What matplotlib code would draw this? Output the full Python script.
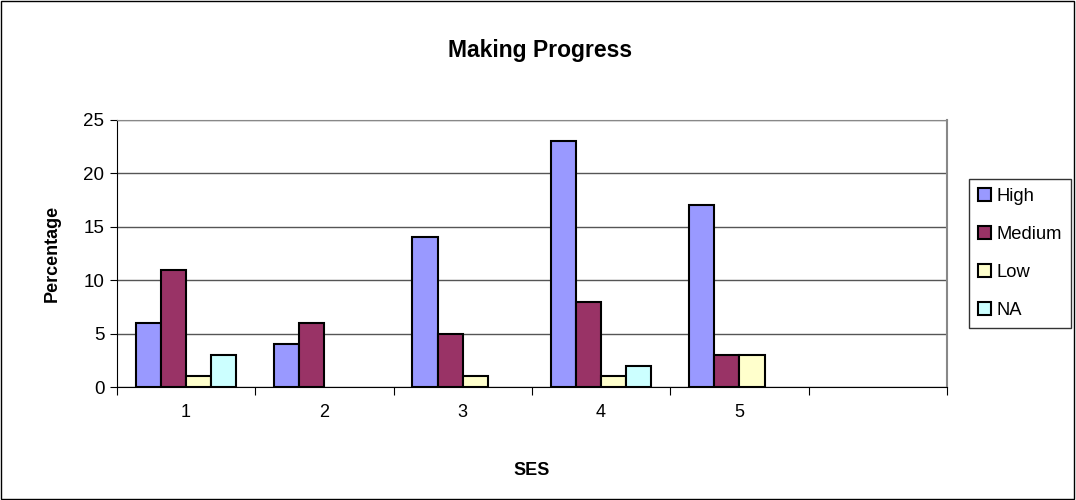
import numpy as np
import matplotlib.pyplot as plt
from matplotlib.patches import Rectangle

plt.rcParams['font.family'] = ['Liberation Sans', 'DejaVu Sans']

categories = ['1', '2', '3', '4', '5', '']
series_names = ['High', 'Medium', 'Low', 'NA']
high = [6, 4, 14, 23, 17, np.nan]
medium = [11, 6, 5, 8, 3, np.nan]
low = [1, np.nan, 1, 1, 3, np.nan]
na = [3, np.nan, np.nan, 2, np.nan, np.nan]
colors = ['#9999FF', '#993366', '#FFFFCC', '#CCFFFF']

fig = plt.figure(figsize=(10.76, 5), dpi=100)
fig.patches.append(Rectangle((0.001, 0.002), 0.997, 0.996, transform=fig.transFigure,
                             fill=False, edgecolor='black', linewidth=1))
ax = fig.add_axes([0.1087, 0.226, 0.7713, 0.534])

x = np.arange(len(categories))
width = 0.182
for i, (vals, name) in enumerate(zip([high, medium, low, na], series_names)):
    offs = (i - 1.5) * width
    ax.bar(x + offs, vals, width, color=colors[i], edgecolor='black',
           linewidth=1.5, label=name, zorder=3)

ax.set_xlim(-0.5, len(categories) - 0.5)
ax.set_ylim(0, 25)
ax.set_yticks(np.arange(0, 26, 5))
ax.yaxis.grid(True, color='#555555', linewidth=1, zorder=0)
ax.set_xticks(np.arange(len(categories) + 1) - 0.5)
ax.set_xticklabels([])
ax.set_xticks(x, minor=True)
ax.set_xticklabels(categories, minor=True)
ax.tick_params(axis='x', which='minor', length=0, pad=12, labelsize=13)
ax.tick_params(axis='x', which='major', length=6, direction='out', color='black')
ax.tick_params(axis='y', length=5, labelsize=13.5, pad=4)

ax.spines['left'].set_color('black')
ax.spines['bottom'].set_color('black')
ax.spines['top'].set_color('#888888')
ax.spines['right'].set_color('#888888')
ax.spines['right'].set_linewidth(1.5)

fig.text(0.502, 0.9, 'Making Progress', fontsize=16.5, fontweight='bold',
         ha='center', va='center')
ax.set_ylabel('Percentage', fontsize=13, fontweight='bold', labelpad=16)
ax.set_xlabel('SES', fontsize=13, fontweight='bold', labelpad=30)

leg = ax.legend(loc='center left', bbox_to_anchor=(1.027, 0.5), fontsize=13.2,
                frameon=True, fancybox=False, edgecolor='black', handlelength=0.7,
                handleheight=0.7, labelspacing=1.15, borderpad=0.5, handletextpad=0.3,
                borderaxespad=0)
leg.get_frame().set_linewidth(1)

fig.savefig('out.png', dpi=100)
